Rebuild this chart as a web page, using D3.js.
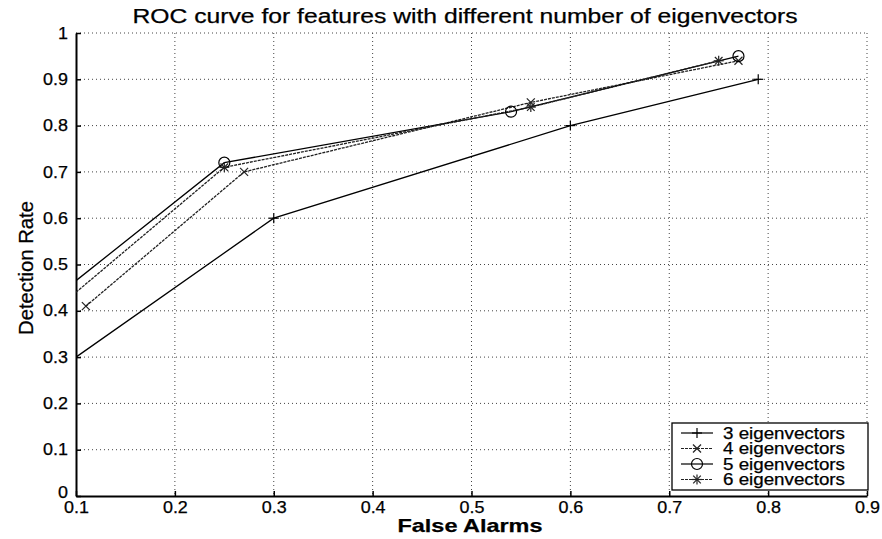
<!DOCTYPE html>
<html>
<head>
<meta charset="utf-8">
<script src="https://cdn.jsdelivr.net/npm/d3@7"></script>
<style>
  body { margin: 0; background: #fff; }
  text { font-family: "Liberation Sans", Arial, sans-serif; fill: #000; stroke: #000; stroke-width: 0.25px; }
</style>
</head>
<body>
<div id="chart"></div>
<script>
var svgWidth = 882;
var svgHeight = 539;

var margin = { top: 33, right: 15, bottom: 43, left: 76 };
var width = svgWidth - margin.left - margin.right;
var height = svgHeight - margin.top - margin.bottom;

// data
var seriesNames = ["3 eigenvectors", "4 eigenvectors", "5 eigenvectors", "6 eigenvectors"];
var falseAlarms3 = [0.10, 0.30, 0.60, 0.79];
var detection3 = [0.30, 0.60, 0.80, 0.90];
var falseAlarms4 = [0.11, 0.27, 0.56, 0.77];
var detection4 = [0.41, 0.70, 0.85, 0.94];
var falseAlarms5 = [0.10, 0.25, 0.54, 0.77];
var detection5 = [0.465, 0.72, 0.83, 0.95];
var falseAlarms6 = [0.10, 0.25, 0.56, 0.75];
var detection6 = [0.44, 0.71, 0.84, 0.94];
var xTicks = [0.1, 0.2, 0.3, 0.4, 0.5, 0.6, 0.7, 0.8, 0.9];
var yTicks = [0, 0.1, 0.2, 0.3, 0.4, 0.5, 0.6, 0.7, 0.8, 0.9, 1];

var markers = ["plus", "cross", "circle", "star"];
var dashes = [null, "3,1", null, "3,1"];
var strokes = ["#000", "#222", "#000", "#222"];

var series = [
  [falseAlarms3, detection3],
  [falseAlarms4, detection4],
  [falseAlarms5, detection5],
  [falseAlarms6, detection6]
].map(function(s, i) {
  return {
    name: seriesNames[i],
    marker: markers[i],
    dash: dashes[i],
    stroke: strokes[i],
    points: s[0].map(function(x, j) { return { x: x, y: s[1][j] }; })
  };
});

var svg = d3.select("#chart")
  .append("svg")
  .attr("width", svgWidth)
  .attr("height", svgHeight);

var chartGroup = svg.append("g")
  .attr("transform", `translate(${margin.left}, ${margin.top})`);

var xScale = d3.scaleLinear().domain([0.1, 0.9]).range([0, width]);
var yScale = d3.scaleLinear().domain([0, 1]).range([height, 0]);

// stretch text horizontally, the source picture is wider than normal type
function stretch(sel, factor) {
  sel.each(function() {
    var len = this.getComputedTextLength();
    d3.select(this).attr("textLength", len * factor).attr("lengthAdjust", "spacingAndGlyphs");
  });
}

// dotted grid
chartGroup.append("g").selectAll("line")
  .data(xTicks.slice(1))
  .enter().append("line")
  .attr("x1", d => xScale(d)).attr("x2", d => xScale(d))
  .attr("y1", 0).attr("y2", height)
  .attr("stroke", "#444").attr("stroke-width", 1)
  .attr("stroke-dasharray", "1,3");

chartGroup.append("g").selectAll("line")
  .data(yTicks.slice(1))
  .enter().append("line")
  .attr("x1", 0).attr("x2", width)
  .attr("y1", d => yScale(d)).attr("y2", d => yScale(d))
  .attr("stroke", "#444").attr("stroke-width", 1)
  .attr("stroke-dasharray", "1,3");

// axes with inward ticks
var xAxis = d3.axisBottom(xScale).tickValues(xTicks).tickFormat(d3.format("")).tickSizeInner(-5).tickSizeOuter(0).tickPadding(6);
var yAxis = d3.axisLeft(yScale).tickValues(yTicks).tickFormat(d3.format("")).tickSizeInner(-5).tickSizeOuter(0).tickPadding(8);

var gx = chartGroup.append("g")
  .attr("transform", `translate(0,${height})`)
  .call(xAxis);
var gy = chartGroup.append("g").call(yAxis);

[gx, gy].forEach(function(g) {
  g.selectAll("path").attr("stroke", "#000").attr("stroke-width", 2);
  g.selectAll("line").attr("stroke", "#000").attr("stroke-width", 1.5);
  g.selectAll("text").attr("font-size", 16).attr("font-family", "Liberation Sans, Arial, sans-serif").attr("fill", "#000");
  stretch(g.selectAll("text"), 1.12);
});
// keep the corner "0" clear of the "0.1" below it
gy.selectAll(".tick").filter(d => d === 0).select("text").attr("dy", "0.1em");

// lines
var line = d3.line().x(d => xScale(d.x)).y(d => yScale(d.y));

svg.append("clipPath").attr("id", "plotclip")
  .append("rect").attr("x", 0).attr("y", 0).attr("width", width).attr("height", height);

chartGroup.append("g").attr("clip-path", "url(#plotclip)")
  .selectAll("path")
  .data(series)
  .enter().append("path")
  .attr("d", d => line(d.points))
  .attr("fill", "none")
  .attr("stroke", d => d.stroke)
  .attr("stroke-width", 1.3)
  .attr("stroke-dasharray", d => d.dash);

function drawMarker(g, type, x, y, color) {
  var s = 5;
  if (type === "plus" || type === "star") {
    g.append("line").attr("x1", x - s).attr("x2", x + s).attr("y1", y).attr("y2", y).attr("stroke", color);
    g.append("line").attr("x1", x).attr("x2", x).attr("y1", y - s).attr("y2", y + s).attr("stroke", color);
  }
  if (type === "cross" || type === "star") {
    var c = type === "star" ? 3.8 : 4;
    g.append("line").attr("x1", x - c).attr("x2", x + c).attr("y1", y - c).attr("y2", y + c).attr("stroke", color);
    g.append("line").attr("x1", x - c).attr("x2", x + c).attr("y1", y + c).attr("y2", y - c).attr("stroke", color);
  }
  if (type === "circle") {
    g.append("circle").attr("cx", x).attr("cy", y).attr("r", 5.5)
      .attr("fill", "none").attr("stroke", color);
  }
}

var markerGroup = chartGroup.append("g").attr("stroke-width", 1.2);
series.forEach(function(s) {
  s.points.forEach(function(p) {
    // points on the left limit are cut off in the source
    if (p.x <= 0.1) return;
    drawMarker(markerGroup, s.marker, xScale(p.x), yScale(p.y), s.stroke);
  });
});

// legend
var legend = svg.append("g").attr("transform", "translate(672, 423)");
legend.append("rect")
  .attr("width", 196).attr("height", 67)
  .attr("fill", "#fff").attr("stroke", "#000").attr("stroke-width", 1.3);

series.forEach(function(s, i) {
  var ly = 10 + i * 15.5;
  legend.append("line")
    .attr("x1", 9).attr("x2", 41).attr("y1", ly).attr("y2", ly)
    .attr("stroke", s.stroke).attr("stroke-width", 1.2)
    .attr("stroke-dasharray", s.dash);
  var mg = legend.append("g").attr("stroke-width", 1.2);
  drawMarker(mg, s.marker, 25, ly, s.stroke);
  legend.append("text")
    .attr("x", 51).attr("y", ly + 5.5)
    .attr("font-size", 16)
    .attr("textLength", 122).attr("lengthAdjust", "spacingAndGlyphs")
    .text(s.name);
});

// title and axis labels
svg.append("text")
  .attr("x", 465).attr("y", 23)
  .attr("text-anchor", "middle")
  .attr("font-size", 20)
  .attr("textLength", 665).attr("lengthAdjust", "spacingAndGlyphs")
  .text("ROC curve for features with different number of eigenvectors");

svg.append("text")
  .attr("x", 470).attr("y", 532)
  .attr("text-anchor", "middle")
  .attr("font-size", 19)
  .attr("font-weight", "bold")
  .attr("textLength", 145).attr("lengthAdjust", "spacingAndGlyphs")
  .text("False Alarms");

svg.append("text")
  .attr("transform", "translate(33, 268) rotate(-90)")
  .attr("text-anchor", "middle")
  .attr("font-size", 21)
  .attr("textLength", 134).attr("lengthAdjust", "spacingAndGlyphs")
  .text("Detection Rate");
</script>
</body>
</html>
